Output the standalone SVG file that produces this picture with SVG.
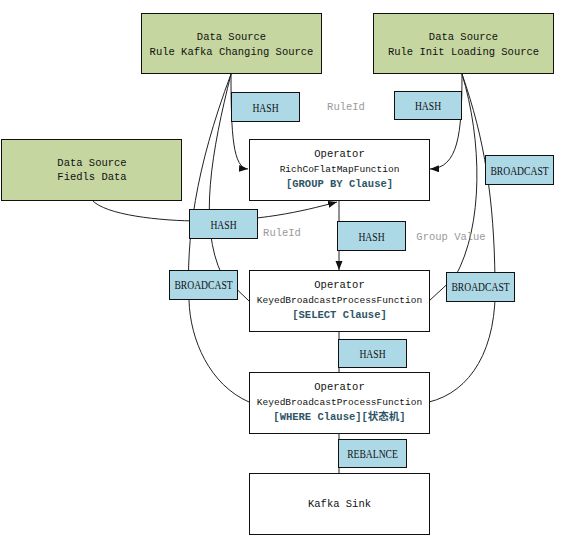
<svg xmlns="http://www.w3.org/2000/svg" width="567" height="547" viewBox="0 0 567 547">
<defs>
<style>
.src{fill:#C5D6A0;stroke:#111;stroke-width:1}
.op{fill:#fff;stroke:#111;stroke-width:1}
.lb{fill:#ADD8E6;stroke:#111;stroke-width:1}
.t{font-family:"Liberation Mono","Noto Sans CJK SC",monospace;font-size:10.5px;fill:#111;text-anchor:middle}
.s{font-family:"Liberation Mono",monospace;font-size:9.5px;fill:#111;text-anchor:middle}
.b{font-family:"Liberation Mono","Noto Sans CJK SC",monospace;font-size:10.5px;font-weight:bold;fill:#2E5566;text-anchor:middle}
.l{font-family:"Liberation Serif",serif;font-size:13px;fill:#111;text-anchor:middle}
.g{font-family:"Liberation Mono",monospace;font-size:10.5px;fill:#999;text-anchor:middle}
.c{fill:none;stroke:#222;stroke-width:1}
</style>
<marker id="ar" markerUnits="userSpaceOnUse" markerWidth="10" markerHeight="8" refX="9" refY="3.5" orient="auto">
<path d="M0,0 L9,3.5 L0,7 z" fill="#111"/>
</marker>
</defs>
<rect width="567" height="547" fill="#fff"/>
<g id="connectors">
<path class="c" d="M231,74 C231,135 233,168 248,169" marker-end="url(#ar)"/>
<path class="c" d="M231,74 C212,150 198,225 222,275 L249,301"/>
<path class="c" d="M231,74 C195,170 186,240 189,300 C190,340 210,385 249,402"/>
<path class="c" d="M462,74 C462,135 458,168 430,169" marker-end="url(#ar)"/>
<path class="c" d="M462,74 C485,140 494,200 495,280 C498,350 470,392 429,402"/>
<path class="c" d="M462,74 C482,140 484,225 455,277 L429,301"/>
<path class="c" d="M92,200 C105,215 160,221 200,221 C260,221 300,212 337,202" marker-end="url(#ar)"/>
<path class="c" d="M339,200 L339,270" marker-end="url(#ar)"/>
<path class="c" d="M339,331 L339,372"/>
<path class="c" d="M339,433 L339,473"/>
</g>
<g id="src-kafka">
<rect class="src" x="141.5" y="13.5" width="180" height="60"/>
<text class="t" x="231.5" y="39.5">Data Source</text>
<text class="t" x="231.5" y="54.5">Rule Kafka Changing Source</text>
</g>
<g id="src-init">
<rect class="src" x="373.5" y="13.5" width="180" height="60"/>
<text class="t" x="463.5" y="39.5">Data Source</text>
<text class="t" x="463.5" y="54.5">Rule Init Loading Source</text>
</g>
<g id="src-fields">
<rect class="src" x="1.5" y="139.5" width="180" height="61"/>
<text class="t" x="92" y="166">Data Source</text>
<text class="t" x="92" y="180">Fiedls Data</text>
</g>
<g id="op-groupby">
<rect class="op" x="249.5" y="139.5" width="180" height="61"/>
<text class="t" x="339.5" y="157">Operator</text>
<text class="s" x="339.5" y="172">RichCoFlatMapFunction</text>
<text class="b" x="339.5" y="187">[GROUP BY Clause]</text>
</g>
<g id="op-select">
<rect class="op" x="249.5" y="270.5" width="180" height="61"/>
<text class="t" x="339.5" y="288">Operator</text>
<text class="s" x="339.5" y="303">KeyedBroadcastProcessFunction</text>
<text class="b" x="339.5" y="318">[SELECT Clause]</text>
</g>
<g id="op-where">
<rect class="op" x="249.5" y="372.5" width="180" height="61"/>
<text class="t" x="339.5" y="390">Operator</text>
<text class="s" x="339.5" y="405">KeyedBroadcastProcessFunction</text>
<text class="b" x="339.5" y="420">[WHERE Clause][状态机]</text>
</g>
<g id="sink">
<rect class="op" x="249.5" y="473.5" width="180" height="61"/>
<text class="t" x="339.5" y="507">Kafka Sink</text>
</g>
<g id="labels">
<rect class="lb" x="231.5" y="92.5" width="68" height="29"/>
<text class="l" transform="translate(265.5,112) scale(0.74,1)">HASH</text>
<text class="g" x="346" y="110">RuleId</text>
<rect class="lb" x="394.5" y="91.5" width="67" height="28"/>
<text class="l" transform="translate(428,110) scale(0.74,1)">HASH</text>
<rect class="lb" x="189.5" y="209.5" width="68" height="29"/>
<text class="l" transform="translate(223.5,228.5) scale(0.74,1)">HASH</text>
<text class="g" x="282" y="236">RuleId</text>
<rect class="lb" x="337.5" y="221.5" width="68" height="29"/>
<text class="l" transform="translate(371.5,240.5) scale(0.74,1)">HASH</text>
<text class="g" x="451" y="240">Group Value</text>
<rect class="lb" x="485.5" y="155.5" width="68" height="29"/>
<text class="l" transform="translate(519.5,174.5) scale(0.74,1)">BROADCAST</text>
<rect class="lb" x="446.5" y="272.5" width="68" height="29"/>
<text class="l" transform="translate(480.5,291) scale(0.74,1)">BROADCAST</text>
<rect class="lb" x="169.5" y="270.5" width="68" height="29"/>
<text class="l" transform="translate(203.5,289) scale(0.74,1)">BROADCAST</text>
<rect class="lb" x="338.5" y="339.5" width="68" height="28"/>
<text class="l" transform="translate(372.5,358) scale(0.74,1)">HASH</text>
<rect class="lb" x="338.5" y="439.5" width="68" height="28"/>
<text class="l" transform="translate(372.5,458) scale(0.74,1)">REBALNCE</text>
</g>
</svg>
